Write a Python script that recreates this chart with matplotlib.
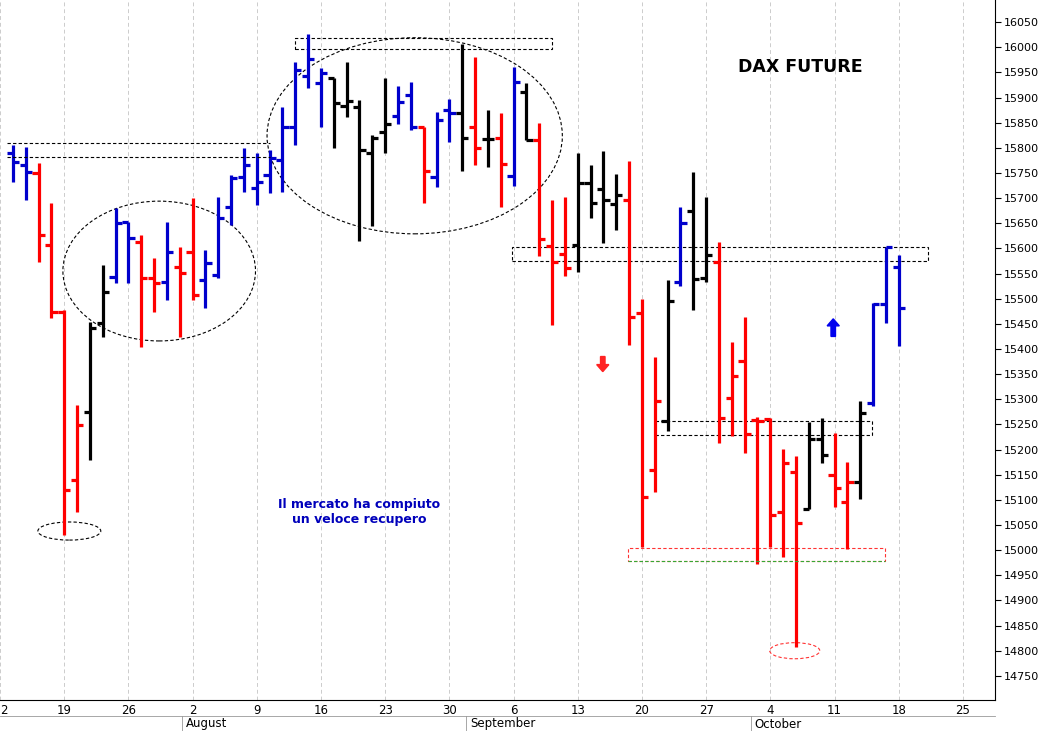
import matplotlib
matplotlib.use("Agg")
import matplotlib.pyplot as plt
from matplotlib.patches import Ellipse, Rectangle, FancyArrow

# OHLC bars, one per trading day starting Tue 13 July 2021
opens = [15790,15766,15750,15607,15474,15140,15275,15452,15543,15653,
         15613,15541,15533,15563,15593,15537,15547,15682,15742,15720,
         15746,15776,15842,15943,15929,15939,15883,15881,15790,15832,
         15863,15905,15842,15742,15875,15869,15842,15818,15820,15744,
         15911,15816,15605,15589,15607,15730,15718,15688,15696,15472,
         15160,15257,15533,15674,15541,15573,15303,15376,15259,15261,
         15076,15156,15082,15221,15150,15096,15136,15293,15490,15563]
highs = [15806,15802,15770,15690,15478,15289,15454,15567,15680,15653,
         15627,15581,15653,15603,15700,15597,15702,15746,15800,15790,
         15796,15881,15971,16026,15959,15939,15971,15895,15826,15939,
         15923,15931,15842,15871,15897,16007,15981,15875,15869,15961,
         15929,15850,15696,15702,15790,15766,15794,15748,15774,15500,
         15384,15537,15682,15752,15702,15613,15414,15464,15265,15263,
         15201,15187,15255,15263,15233,15176,15297,15492,15603,15587]
lows = [15732,15696,15573,15462,15030,15076,15180,15424,15531,15531,
        15404,15474,15498,15424,15498,15482,15541,15647,15712,15686,
        15710,15712,15806,15919,15842,15800,15861,15615,15645,15790,
        15848,15836,15690,15722,15812,15754,15766,15762,15682,15724,
        15816,15585,15448,15545,15553,15661,15611,15637,15408,15006,
        15116,15237,15525,15478,15533,15213,15227,15193,14973,15006,
        14987,14808,15082,15174,15086,15003,15102,15287,15452,15406]
closes = [15772,15752,15627,15474,15120,15249,15442,15513,15650,15621,
          15541,15531,15593,15551,15507,15571,15661,15740,15766,15732,
          15780,15842,15955,15977,15949,15889,15893,15796,15820,15848,
          15891,15842,15754,15856,15869,15820,15800,15818,15768,15931,
          15816,15619,15573,15561,15730,15690,15696,15706,15464,15106,
          15297,15496,15650,15539,15587,15263,15346,15231,15257,15070,
          15174,15054,15221,15189,15124,15136,15273,15490,15603,15482]
trend = list("bbrrrrkkbb" "rrbrrbbbbb" "bbbbbkkkkk" "bbrbbkrkrb"
             "krrrkkkkrr" "rkbkkrrrrr" "rrkkrrkbbb")

tick_pos = [-1 + 5 * k for k in range(16)]
tick_labels = ["2","19","26","2","9","16","23","30","6","13","20","27","4","11","18","25"]
months = [("August", 13.6), ("September", 35.6), ("October", 57.6)]
yticks = list(range(14750, 16051, 50))

colmap = {"b": "#0000cc", "r": "#ff0000", "k": "#000000"}

W, H = 1042, 731
fig = plt.figure(figsize=(W/100, H/100), dpi=100)
ax = fig.add_axes([0, 31/H, 995/W, 1 - 31/H])
xmin, xmax = -0.46, 76.5
ymin, ymax = 14702, 16094
ax.set_xlim(xmin, xmax); ax.set_ylim(ymin, ymax)

for i in range(len(opens)):
    c = colmap[trend[i]]
    ax.plot([i, i], [lows[i], highs[i]], color=c, lw=2.3, solid_capstyle="butt")
    ax.plot([i - 0.48, i], [opens[i], opens[i]], color=c, lw=2.3, solid_capstyle="butt")
    ax.plot([i, i + 0.48], [closes[i], closes[i]], color=c, lw=2.3, solid_capstyle="butt")

for t in tick_pos:
    ax.axvline(t, color="#cccccc", lw=0.7, ls=(0, (4, 3)), zorder=0)

ax.set_xticks(tick_pos)
ax.set_xticklabels(tick_labels, fontsize=8.5)
ax.get_xticklabels()[0].set_horizontalalignment("left")
ax.tick_params(axis="x", length=0, pad=3)
ax.yaxis.tick_right()
ax.set_yticks(yticks)
ax.set_yticklabels([str(v) for v in yticks], fontsize=8)
ax.tick_params(axis="y", length=4, pad=2)
for s in ["top", "left"]:
    ax.spines[s].set_visible(False)

dash = dict(fill=False, ls=(0, (3, 2)), lw=0.8)
ax.plot([xmin, 20.0], [15810, 15810], color="k", lw=0.8, ls=(0, (3, 2)))
ax.plot([xmin, 20.0], [15782, 15782], color="k", lw=0.8, ls=(0, (3, 2)))
ax.add_patch(Rectangle((22.0, 15996), 20.0, 22, ec="k", **dash))
ax.add_patch(Rectangle((38.9, 15575), 32.4, 28, ec="k", **dash))
ax.add_patch(Rectangle((50.0, 15229), 16.9, 28, ec="k", **dash))
ax.add_patch(Rectangle((47.9, 14979), 20.0, 26, ec="#ff3333", **dash))
ax.plot([47.9, 67.9], [14979, 14979], color="#33aa33", lw=0.8, ls=(0, (3, 2)))
ax.add_patch(Ellipse((11.4, 15555), 15.0, 278, ec="k", **dash))
ax.add_patch(Ellipse((31.3, 15824), 23.0, 390, ec="k", **dash))
ax.add_patch(Ellipse((4.4, 15038), 4.9, 36, ec="k", **dash))
ax.add_patch(Ellipse((60.9, 14800), 3.9, 32, ec="#ff3333", **dash))

ax.add_patch(FancyArrow(45.95, 15385, 0, -30, width=0.35, head_width=0.95, head_length=14,
                        length_includes_head=True, color="#ff2222"))
ax.add_patch(FancyArrow(63.9, 15425, 0, 35, width=0.35, head_width=0.95, head_length=14,
                        length_includes_head=True, color="#0000ee"))

ax.text(61.3, 15961, "DAX FUTURE", fontsize=12.5, fontweight="bold", ha="center", va="center")
ax.text(27.0, 15076, "Il mercato ha compiuto\nun veloce recupero", fontsize=9,
        fontweight="bold", color="#0000bb", ha="center", va="center", linespacing=1.2)

fig.add_artist(plt.Line2D([0, 995/W], [15/H, 15/H], color="#999999", lw=0.6))
for name, xi in months:
    xf = (xi - xmin) / (xmax - xmin) * (995/W)
    fig.add_artist(plt.Line2D([xf, xf], [0, 15/H], color="#999999", lw=0.6))
    fig.text(xf + 0.004, 7/H, name, fontsize=8.5, va="center", ha="left")

fig.savefig("out.png", dpi=100)
